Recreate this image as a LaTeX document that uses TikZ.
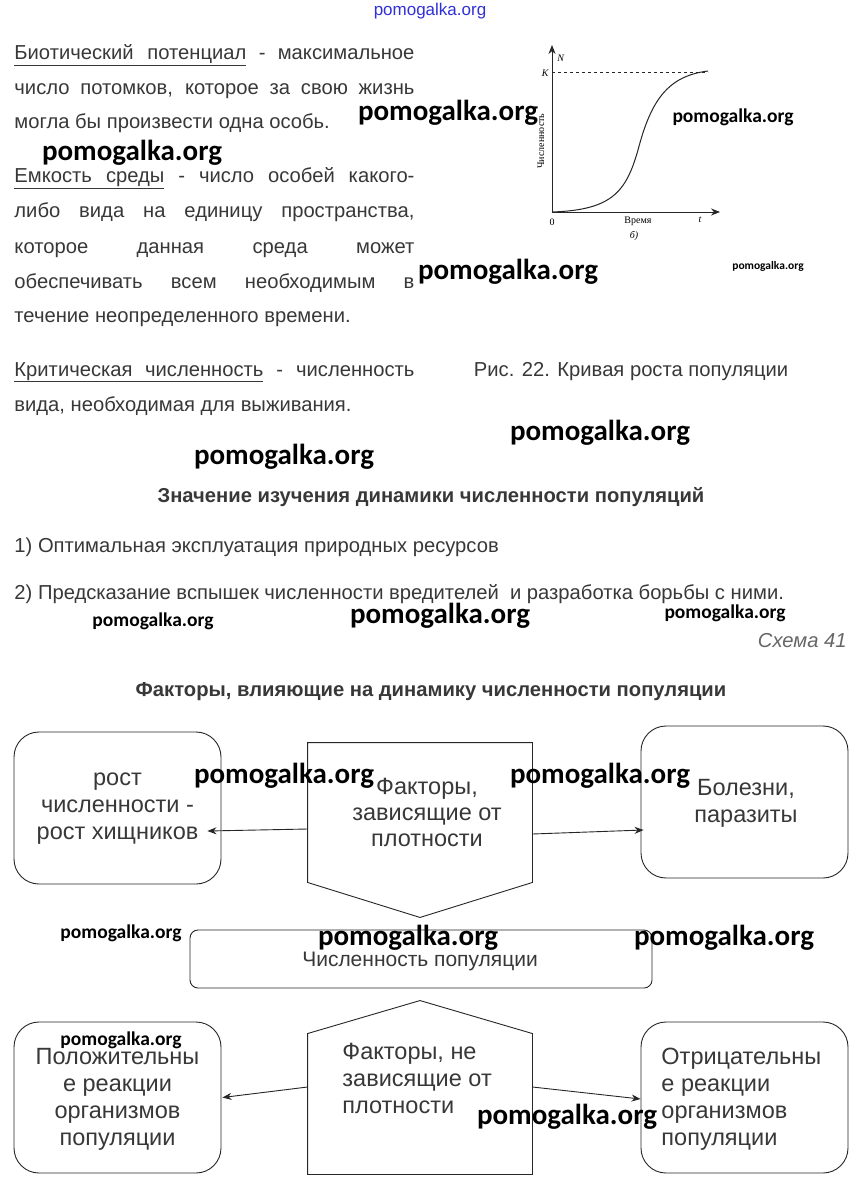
\documentclass[tikz,border=0pt]{standalone}
\usepackage{fontspec}
\setmainfont{Liberation Sans}
\newfontfamily\markfont{Carlito}
\newfontfamily\graphfont{Liberation Serif}
\usetikzlibrary{positioning,arrows.meta}
\definecolor{txtgray}{HTML}{383838}
\definecolor{markblue}{HTML}{3030D8}

\tikzset{
  body/.style={anchor=base west, inner sep=0pt, text=txtgray, font=\fontsize{20.2}{24}\selectfont},
  headline/.style={anchor=base, inner sep=0pt, text=txtgray, font=\bfseries\fontsize{20.2}{24}\selectfont},
  wmark/.style={inner sep=0pt, text=black, font=\markfont\bfseries\fontsize{29}{30}\selectfont},
  wmarksmall/.style={wmark, font=\markfont\bfseries\fontsize{19.5}{20}\selectfont},
  wmarktiny/.style={wmark, font=\markfont\bfseries\fontsize{11.5}{12}\selectfont},
  gtext/.style={inner sep=0pt, font=\graphfont\fontsize{10}{12}\selectfont},
  rbox/.style={draw, rounded corners=25pt, minimum width=207pt, minimum height=152pt},
  btext/.style={inner sep=0pt, text=txtgray, font=\fontsize{23.5}{27}\selectfont},
}

\begin{document}
\begin{tikzpicture}[x=1pt, y=-1pt, >={Stealth[length=9pt,width=7pt]}, line width=0.9pt, draw=black!85]
  \useasboundingbox[fill=white] (0,0) rectangle (858,1190);

  % definitions
  \node[body] (bio1) at (14,60) {\makebox[400pt][s]{\underline{\makebox[232pt][s]{Биотический потенциал}} - максимальное}};
  \node[body] (bio2) at (14,95) {\makebox[400pt][s]{число потомков, которое за свою жизнь}};
  \node[body] (bio3) at (14,129) {могла бы произвести одна особь.};
  \node[body] (cap1) at (14,183) {\makebox[400pt][s]{\underline{\makebox[150pt][s]{Емкость среды}} - число особей какого-}};
  \node[body] (cap2) at (14,218) {\makebox[400pt][s]{либо вида на единицу пространства,}};
  \node[body] (cap3) at (14,253) {\makebox[400pt][s]{которое данная среда может}};
  \node[body] (cap4) at (14,288) {\makebox[400pt][s]{обеспечивать всем необходимым в}};
  \node[body] (cap5) at (14,322) {течение неопределенного времени.};
  \node[body] (crit1) at (14,376) {\makebox[400pt][s]{\underline{\makebox[249pt][s]{Критическая численность}} - численность}};
  \node[body] (crit2) at (14,411) {вида, необходимая для выживания.};

  % growth curve
  \draw[->, line width=0.8pt] (552,212) -- (552,45);
  \draw[->, line width=0.8pt] (552,212) -- (720,212);
  \draw[dashed, line width=0.7pt] (552,72) -- (708,72);
  \draw[line width=1pt] (552,212) .. controls (612,210) and (626,192) .. (638,150)
    .. controls (651,100) and (668,76) .. (708,71);
  \node[gtext, anchor=west] (axN) at (557,58) {\itshape N};
  \node[gtext, anchor=east] (axK) at (549,73) {\itshape K};
  \node[gtext] (ax0) at (552,222) {0};
  \node[gtext] (axT) at (638,221) {Время};
  \node[gtext] (axt) at (700,220) {\itshape t};
  \node[gtext] (axB) at (634,236) {\itshape б)};
  \node[gtext, rotate=90] (axY) at (541,141) {Численность};
  \node[body, anchor=base] (fig) at (631,376) {Рис. 22. Кривая роста популяции};

  % study
  \node[headline] (study) at (431,502) {Значение изучения динамики численности популяций};
  \node[body] (item1) at (14,552) {1) Оптимальная эксплуатация природных ресурсов};
  \node[body] (item2) at (14,599) {2) Предсказание вспышек численности вредителей\ \ и разработка борьбы с ними.};
  \node[body, anchor=base east, font=\itshape\fontsize{20.2}{24}\selectfont, text=black!60] (scheme) at (847,647) {Схема 41};
  \node[headline] (factors) at (431,696) {Факторы, влияющие на динамику численности популяции};

  % scheme boxes
  \node[rbox] (grow) at (117.5,808) {};
  \node[btext, align=center] (growtxt) at (117.5,809) {рост\\численности -\\рост хищников};
  \node[rbox] (ill) at (744.5,802) {};
  \node[btext, align=center] (illtxt) at (746,803.5) {Болезни,\\паразиты};
  \node[minimum width=224pt, minimum height=139pt, inner sep=0pt] (pdep) at (420,812.5) {};
  \draw (pdep.north west) -- (pdep.north east) -- (pdep.south east)
    -- ([yshift=-35pt]pdep.south) -- (pdep.south west) -- cycle;
  \node[btext, align=center, font=\fontsize{23.5}{26}\selectfont] (pdeptxt) at (427,812) {Факторы,\\зависящие от\\плотности};
  \node[draw, rounded corners=8pt, minimum width=462pt, minimum height=58pt] (popsize) at (421,959) {};
  \node[btext, font=\fontsize{21}{24}\selectfont] (popsizetxt) at (420,961) {Численность популяции};
  \node[minimum width=224pt, minimum height=140pt, inner sep=0pt] (pind) at (420,1104) {};
  \draw (pind.south west) -- (pind.north west) -- ([yshift=33pt]pind.north)
    -- (pind.north east) -- (pind.south east) -- cycle;
  \node[btext, align=left, anchor=west] (pindtxt) at (342,1078) {Факторы, не\\зависящие от\\плотности};
  \node[rbox, minimum height=151pt] (pos) at (117.5,1097.5) {};
  \node[btext, align=center] (postxt) at (117.5,1099) {Положительны\\е реакции\\организмов\\популяции};
  \node[rbox, minimum height=151pt] (neg) at (744.5,1097.5) {};
  \node[btext, align=left, anchor=west] (negtxt) at (661,1099) {Отрицательны\\е реакции\\организмов\\популяции};

  % arrows
  \draw[->] ([yshift=-16.5pt]pdep.west) -- ([xshift=-14pt,yshift=-23pt]grow.east);
  \draw[->] ([yshift=-21.5pt]pdep.east) -- ([xshift=3pt,yshift=-28pt]ill.west);
  \draw[->] ([yshift=17pt]pind.west) -- ([xshift=1pt]pos.east);
  \draw[->] ([yshift=17pt]pind.east) -- ([yshift=-1.5pt]neg.west);

  % watermarks
  \node[inner sep=0pt, text=markblue, font=\fontsize{17}{18}\selectfont] (wm0) at (430,11) {pomogalka.org};
  \node[wmark] (wm1) at (448,113) {pomogalka.org};
  \node[wmark] (wm2) at (132,153) {pomogalka.org};
  \node[wmarksmall] (wm3) at (733,117) {pomogalka.org};
  \node[wmark] (wm4) at (508,272) {pomogalka.org};
  \node[wmarktiny] (wm5) at (768,266) {pomogalka.org};
  \node[wmark] (wm6) at (600,433) {pomogalka.org};
  \node[wmark] (wm7) at (284,457) {pomogalka.org};
  \node[wmarksmall] (wm8) at (153,621) {pomogalka.org};
  \node[wmark] (wm9) at (440,616) {pomogalka.org};
  \node[wmarksmall] (wm10) at (725,613) {pomogalka.org};
  \node[wmark] (wm11) at (284,776) {pomogalka.org};
  \node[wmark] (wm12) at (600,776) {pomogalka.org};
  \node[wmarksmall] (wm13) at (121,933) {pomogalka.org};
  \node[wmark] (wm14) at (408,938) {pomogalka.org};
  \node[wmark] (wm15) at (724,938) {pomogalka.org};
  \node[wmarksmall] (wm16) at (121,1040) {pomogalka.org};
  \node[wmark] (wm17) at (567,1117) {pomogalka.org};
\end{tikzpicture}
\end{document}
